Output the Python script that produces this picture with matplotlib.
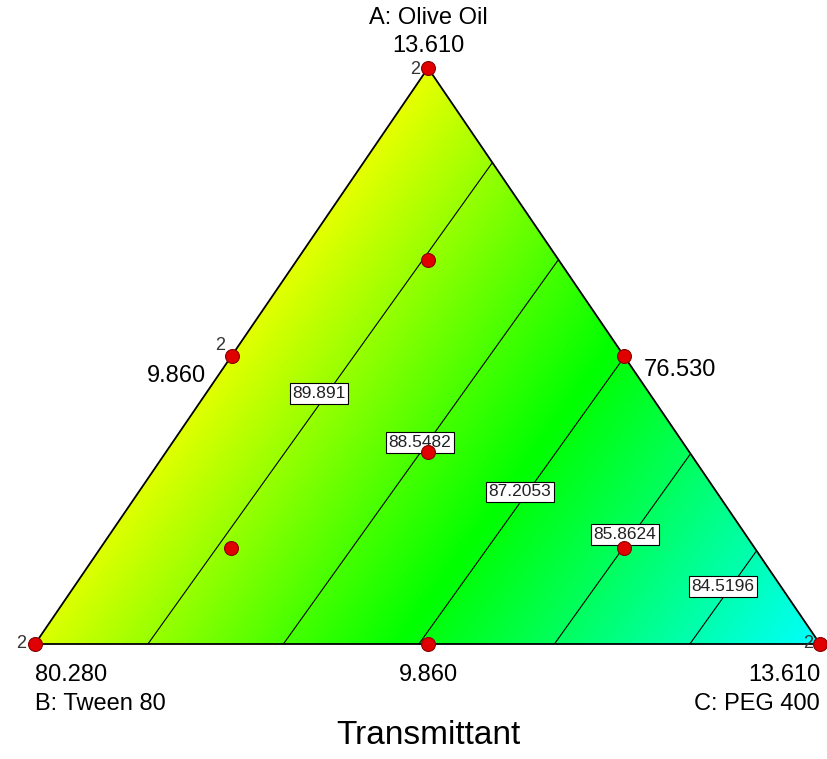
import numpy as np
import matplotlib
matplotlib.use("Agg")
import matplotlib.pyplot as plt
from matplotlib.colors import LinearSegmentedColormap, Normalize
from matplotlib.patches import Polygon

plt.rcParams['font.family'] = ['Liberation Sans', 'DejaVu Sans']

# Component ranges (actual units)
A_low, A_high = 9.860, 13.610     # Olive Oil
B_low, B_high = 76.530, 80.280    # Tween 80
C_low, C_high = 9.860, 13.610     # PEG 400

# Linear mixture model for Transmittant (pseudo-component coefficients)
beta_A, beta_B, beta_C = 91.20, 91.01, 83.23
contour_levels = [84.5196, 85.8624, 87.2053, 88.5482, 89.891]

# Design points (actual units) and replicate counts
design_A = [13.610, 9.860, 9.860, 11.735, 11.735, 9.860, 11.110, 12.360, 10.485, 10.485]
design_B = [76.530, 80.280, 76.530, 78.405, 76.530, 78.405, 77.780, 77.155, 79.030, 77.155]
design_C = [9.860, 9.860, 13.610, 9.860, 11.735, 11.735, 11.110, 10.485, 10.485, 12.360]
design_reps = [2, 2, 2, 2, 1, 1, 1, 1, 1, 1]

# Contour label anchor heights (fraction of A along each contour)
label_frac_A = [0.10, 0.19, 0.264, 0.35, 0.435]

# Vertex placement on the canvas (pixel-like coordinates)
P_top = np.array([428.0, 68.0])
P_left = np.array([35.0, 644.0])
P_right = np.array([820.0, 644.0])

W, H = 827, 759
fig = plt.figure(figsize=(W / 100, H / 100), dpi=100)
ax = fig.add_axes([0, 0, 1, 1])
ax.set_xlim(0, W)
ax.set_ylim(H, 0)
ax.axis('off')


def pseudo(A, B, C):
    span = A_high - A_low
    return (np.asarray(A) - A_low) / span, (np.asarray(B) - B_low) / span, (np.asarray(C) - C_low) / span


def to_xy(a, b, c):
    a, b, c = np.asarray(a), np.asarray(b), np.asarray(c)
    x = a * P_top[0] + b * P_left[0] + c * P_right[0]
    y = a * P_top[1] + b * P_left[1] + c * P_right[1]
    return x, y


# Barycentric grid over the canvas
xs = np.linspace(0, W, 900)
ys = np.linspace(0, H, 830)
X, Y = np.meshgrid(xs, ys)
T = np.array([[P_top[0] - P_right[0], P_left[0] - P_right[0]],
              [P_top[1] - P_right[1], P_left[1] - P_right[1]]])
Tinv = np.linalg.inv(T)
dx, dy = X - P_right[0], Y - P_right[1]
ga = Tinv[0, 0] * dx + Tinv[0, 1] * dy
gb = Tinv[1, 0] * dx + Tinv[1, 1] * dy
gc = 1 - ga - gb
Z = beta_A * ga + beta_B * gb + beta_C * gc

cmap = LinearSegmentedColormap.from_list(
    "de", [(0, 0, 1), (0, 1, 1), (0, 1, 0), (1, 1, 0), (1, 0, 0)])
norm = Normalize(vmin=79.0, vmax=95.8)

tri = Polygon([P_top, P_left, P_right], closed=True, facecolor='none',
              edgecolor='black', linewidth=1.3, zorder=4)
ax.add_patch(tri)

img = ax.imshow(Z, extent=[0, W, H, 0], cmap=cmap, norm=norm,
                origin='upper', interpolation='bilinear', zorder=1)
img.set_clip_path(tri)

cs = ax.contour(X, Y, Z, levels=contour_levels, colors='black',
                linewidths=0.8, zorder=2)
cs.set_clip_path(tri)

# Contour value labels
for lev, fa in zip(contour_levels, label_frac_A):
    # point on the contour with the given A fraction
    b = (lev - beta_C - (beta_A - beta_C) * fa) / (beta_B - beta_C)
    lx, ly = to_xy(fa, b, 1 - fa - b)
    ax.text(lx - 8, ly, f"{lev:g}", fontsize=12.5, ha='center', va='center',
            zorder=6, color='#222222',
            bbox=dict(boxstyle='square,pad=0.15', facecolor='white',
                      edgecolor='black', linewidth=0.8))

# Design points
pa, pb, pc = pseudo(design_A, design_B, design_C)
px, py = to_xy(pa, pb, pc)
ax.plot(px, py, 'o', markersize=10, markerfacecolor='#e00000',
        markeredgecolor='#8a0000', markeredgewidth=0.8, zorder=7,
        clip_on=False)
rep_offsets = {0: (-8, 2, 'right', 'center'), 1: (-9, 0, 'right', 'center'),
               2: (-7, 0, 'right', 'center'), 3: (-6, -2, 'right', 'bottom')}
for i, r in enumerate(design_reps):
    if r > 1:
        ox, oy, ha, va = rep_offsets[i]
        ax.text(px[i] + ox, py[i] + oy, str(r), fontsize=13, ha=ha, va=va,
                color='#333333', zorder=8)

# Axis value labels
fs = 17
ax.text(P_top[0], 46, f"{A_high:.3f}", fontsize=fs, ha='center', va='center')
ax.text(P_top[0], 18, "A: Olive Oil", fontsize=fs, ha='center', va='center')
ax.text(P_left[0], 675, f"{B_high:.3f}", fontsize=fs, ha='left', va='center')
ax.text(P_left[0], 704, "B: Tween 80", fontsize=fs, ha='left', va='center')
ax.text(P_right[0], 675, f"{C_high:.3f}", fontsize=fs, ha='right', va='center')
ax.text(P_right[0], 704, "C: PEG 400", fontsize=fs, ha='right', va='center')
ax.text(P_top[0], 675, f"{A_low:.3f}", fontsize=fs, ha='center', va='center')
lx, ly = to_xy(0.5, 0.5, 0.0)
ax.text(lx - 25, ly + 20, f"{C_low:.3f}", fontsize=fs, ha='right', va='center')
rx, ry = to_xy(0.5, 0.0, 0.5)
ax.text(rx + 20, ry + 14, f"{B_low:.3f}", fontsize=fs, ha='left', va='center')

ax.text(P_top[0], 736, "Transmittant", fontsize=24, ha='center', va='center')

fig.savefig("out.png", dpi=100, facecolor='white')
